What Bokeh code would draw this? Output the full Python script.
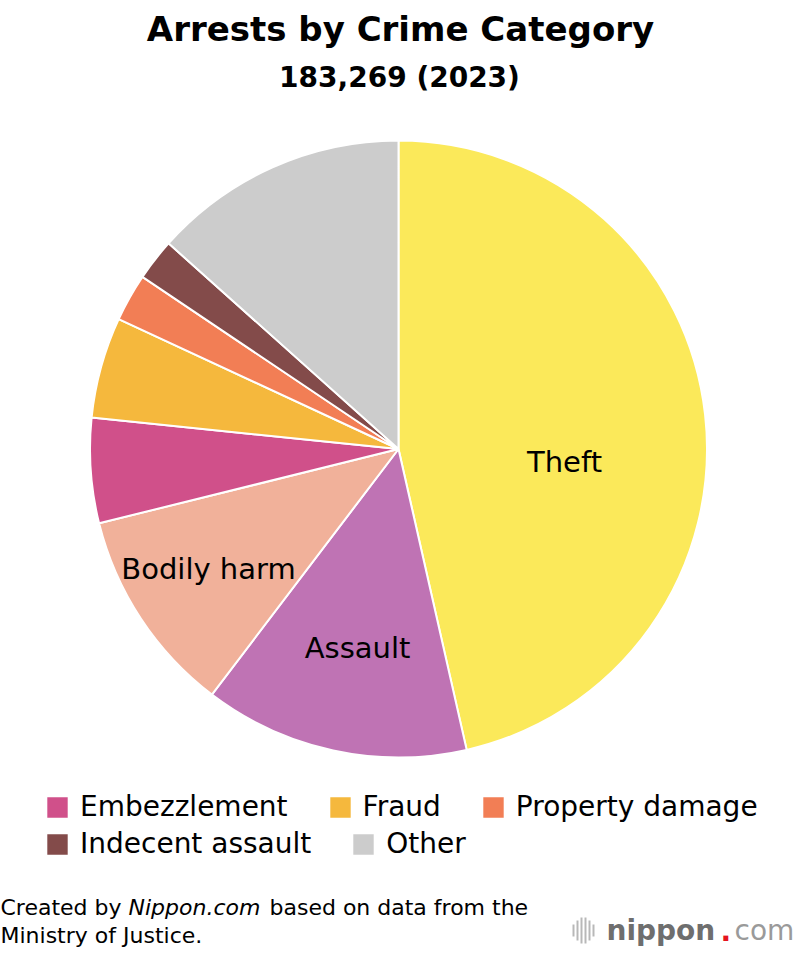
import numpy as np
from bokeh.plotting import figure
from bokeh.models import Range1d, Label, Legend, LegendItem, ColumnDataSource
from bokeh.embed import file_html
from bokeh.resources import INLINE

# ---- data ----
categories = ["Theft", "Assault", "Bodily harm", "Embezzlement", "Fraud",
              "Property damage", "Indecent assault", "Other"]
shares = [46.5, 13.9, 10.8, 5.5, 5.3, 2.5, 2.2, 13.4]
colors = ["#FBE95A", "#BF73B4", "#F1B19A", "#D0508A", "#F5B83D",
          "#F27E55", "#834B4A", "#CCCCCC"]
title_text = "Arrests by Crime Category"
subtitle_text = "183,269 (2023)"
legend_row1 = ["Embezzlement", "Fraud", "Property damage"]
legend_row2 = ["Indecent assault", "Other"]
inside_labels = ["Theft", "Assault", "Bodily harm"]

W, H = 800, 954
FONT = "DejaVu Sans"


def fx(X):
    return X


def fy(Y):
    return H - Y


p = figure(width=W, height=H, x_range=Range1d(0, W), y_range=Range1d(0, H),
           output_backend="svg", toolbar_location=None, min_border=0,
           x_axis_location=None, y_axis_location=None)
p.grid.visible = False
p.outline_line_color = None
p.background_fill_color = "white"

vals = np.array(shares, dtype=float)
frac = vals / vals.sum()
cum = np.concatenate([[0], np.cumsum(frac)])
start = np.pi / 2 - 2 * np.pi * cum[:-1]
end = np.pi / 2 - 2 * np.pi * cum[1:]
src = ColumnDataSource(dict(cat=categories, val=shares, color=colors,
                            start=start, end=end))

cx, cy, R = fx(398), fy(448.5), 308.5
wr = p.wedge(x=cx, y=cy, radius=R, start_angle="start", end_angle="end",
             direction="clock", fill_color="color", line_color="white",
             line_width=2, source=src)

# title
p.add_layout(Label(x=400, y=fy(28), text=title_text, text_align="center",
                   text_baseline="middle", text_font=FONT, text_font_style="bold",
                   text_font_size="34px", text_color="#000000"))
p.add_layout(Label(x=399, y=fy(77), text=subtitle_text, text_align="center",
                   text_baseline="middle", text_font=FONT, text_font_style="bold",
                   text_font_size="28px", text_color="#000000"))

# inside labels
label_pos = {"Theft": (564, 461), "Assault": (357, 647), "Bodily harm": (208, 568)}
for name in inside_labels:
    X, Y = label_pos[name]
    p.add_layout(Label(x=fx(X), y=fy(Y), text=name, text_align="center",
                       text_baseline="middle", text_font=FONT,
                       text_font_size="29px", text_color="#000000"))


def make_legend(names, loc):
    items = [LegendItem(label=n, renderers=[wr], index=categories.index(n)) for n in names]
    lg = Legend(items=items, orientation="horizontal", location=loc,
                glyph_width=28, glyph_height=28, label_standoff=9, spacing=38,
                padding=0, margin=0, border_line_color=None,
                background_fill_alpha=0, label_text_font=FONT,
                label_text_font_size="28px", label_text_color="#000000",
                label_height=28)
    p.add_layout(lg)


make_legend(legend_row1, (fx(43), fy(823)))
make_legend(legend_row2, (fx(43), fy(860)))

# source note
src_font = "22px"
p.add_layout(Label(x=fx(0), y=fy(907), text="Created by", text_baseline="middle",
                   text_font=FONT, text_font_size=src_font, text_color="#000000"))
p.add_layout(Label(x=fx(128), y=fy(907), text="Nippon.com", text_baseline="middle",
                   text_font=FONT, text_font_style="italic", text_font_size=src_font,
                   text_color="#000000"))
p.add_layout(Label(x=fx(269), y=fy(907), text="based on data from the", text_baseline="middle",
                   text_font=FONT, text_font_size=src_font, text_color="#000000"))
p.add_layout(Label(x=fx(0), y=fy(935), text="Ministry of Justice.", text_baseline="middle",
                   text_font=FONT, text_font_size=src_font, text_color="#000000"))

# nippon.com logo
bar_x = [573, 577, 581, 585, 589, 593]
bar_h = [12, 20, 26, 26, 20, 12]
p.segment(x0=[fx(x) for x in bar_x], y0=[fy(930) - h / 2 for h in bar_h],
          x1=[fx(x) for x in bar_x], y1=[fy(930) + h / 2 for h in bar_h],
          line_color="#b8b8b8", line_width=2)
p.add_layout(Label(x=fx(606), y=fy(930), text="nippon", text_baseline="middle",
                   text_font=FONT, text_font_style="bold", text_font_size="28px",
                   text_color="#6e6e6e"))
p.add_layout(Label(x=fx(720), y=fy(930), text=".", text_baseline="middle",
                   text_font=FONT, text_font_style="bold", text_font_size="28px",
                   text_color="#E5141E"))
p.add_layout(Label(x=fx(734), y=fy(930), text="com", text_baseline="middle",
                   text_font=FONT, text_font_size="28px", text_color="#9a9a9a"))

open("out.html", "w").write(file_html(p, INLINE))
